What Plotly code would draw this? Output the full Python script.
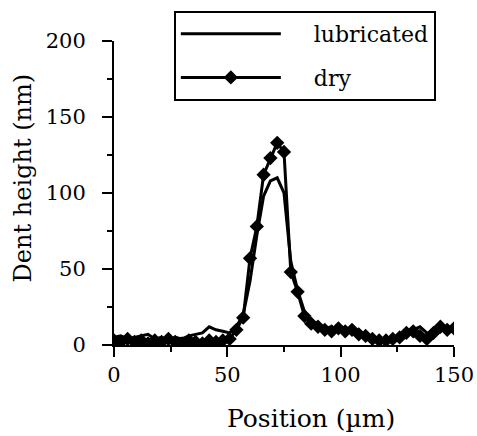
import plotly.graph_objects as go

position = [0, 3, 6, 9, 12, 15, 18, 21, 24, 27, 30, 33, 36, 39, 42, 45, 48, 51, 54, 57,
            60, 63, 66, 69, 72, 75, 78, 81, 84, 87, 90, 93, 96, 99, 102, 105, 108, 111,
            114, 117, 120, 123, 126, 129, 132, 135, 138, 141, 144, 147, 150]

lubricated = [5, 6, 4, 5, 6, 7, 4, 5, 3, 5, 4, 6, 7, 8, 12, 10, 9, 8, 12, 20,
              42, 72, 98, 108, 110, 100, 55, 36, 22, 16, 14, 11, 12, 9, 10, 8, 9, 5,
              4, 3, 4, 5, 6, 8, 10, 12, 8, 6, 9, 12, 10]

dry = [3, 2, 4, 2, 3, 1, 3, 2, 4, 2, 1, 3, 2, 1, 3, 2, 3, 4, 10, 18,
       57, 78, 112, 123, 133, 127, 48, 35, 19, 14, 12, 10, 9, 11, 9, 10, 7, 6,
       4, 3, 3, 4, 5, 8, 9, 6, 4, 8, 12, 10, 11]

x_ticks = [0, 50, 100, 150]
y_ticks = [0, 50, 100, 150, 200]

FONT = "DejaVu Serif"
NB = "\u00a0"

fig = go.Figure()
fig.add_trace(go.Scatter(x=position, y=lubricated, mode="lines", name=NB * 4 + "lubricated",
                         legendgroup="a",
                         line=dict(color="black", width=3)))
fig.add_trace(go.Scatter(x=position, y=dry, mode="lines+markers", name=NB * 4 + "dry",
                         legendgroup="b",
                         line=dict(color="black", width=3),
                         marker=dict(symbol="diamond", size=11, color="black")))

axis_common = dict(showline=True, linecolor="black", linewidth=2, ticks="outside",
                   tickcolor="black", tickwidth=2, ticklen=10, showgrid=False,
                   zeroline=False, automargin=False,
                   tickfont=dict(family=FONT, size=21, color="black"))

fig.update_xaxes(range=[0, 150], tickvals=x_ticks,
                 minor=dict(ticks="outside", ticklen=5, tickwidth=2, tickcolor="black", dtick=25),
                 **axis_common)
fig.update_yaxes(range=[0, 200], tickvals=y_ticks, ticklabelstandoff=12,
                 minor=dict(ticks="outside", ticklen=5, tickwidth=2, tickcolor="black", dtick=25),
                 **axis_common)

fig.add_annotation(text="Position (µm)", xref="paper", yref="paper", x=0.579, y=-0.243,
                   xanchor="center", yanchor="middle", showarrow=False,
                   font=dict(family=FONT, size=25, color="black"))
fig.add_annotation(text="Dent height (nm)", xref="paper", yref="paper", x=-0.265, y=0.551,
                   xanchor="center", yanchor="middle", showarrow=False, textangle=-90,
                   font=dict(family=FONT, size=24, color="black"))

fig.update_layout(
    width=477, height=436,
    margin=dict(l=114, r=23, t=40, b=91),
    paper_bgcolor="white", plot_bgcolor="white",
    font=dict(family=FONT, size=20, color="black"),
    legend=dict(x=0.176, y=1.095, xanchor="left", yanchor="top",
                bordercolor="black", borderwidth=2, bgcolor="white",
                itemwidth=100, traceorder="grouped", tracegroupgap=12,
                font=dict(family=FONT, size=22, color="black")),
)

fig.write_html("out.html")
